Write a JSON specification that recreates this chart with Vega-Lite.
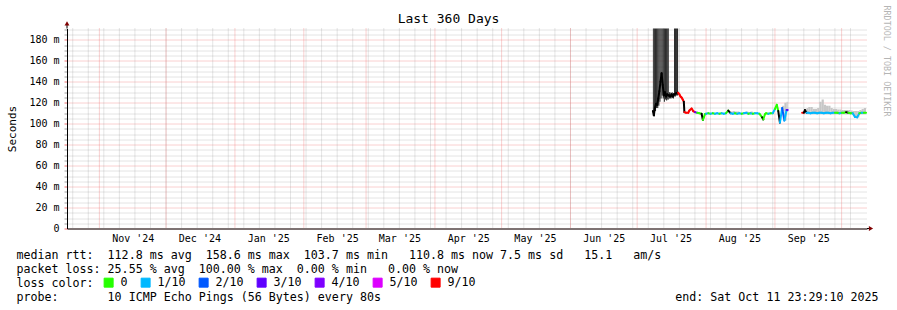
{
  "$schema": "https://vega.github.io/schema/vega-lite/v6.json",
  "width": 800,
  "height": 200,
  "autosize": {"type": "none"},
  "padding": {"left": 67, "top": 28.5, "right": 30, "bottom": 81.5},
  "background": "#ffffff",
  "config": {"view": {"stroke": null}, "font": "DejaVu Sans Mono"},
  "title": {"text": "Last 360 Days", "font": "DejaVu Sans Mono", "fontSize": 13, "fontWeight": "normal", "color": "#000000", "anchor": "middle", "dx": -18.5, "dy": 35.5, "offset": 4.5, "baseline": "alphabetic"},
  "datasets": {
    "grid": [
      {"t": "2024-10-20", "k": "w"}, {"t": "2024-10-27", "k": "w"}, {"t": "2024-11-03", "k": "w"}, {"t": "2024-11-10", "k": "w"}, {"t": "2024-11-17", "k": "w"}, {"t": "2024-11-24", "k": "w"}, {"t": "2024-12-01", "k": "w"}, {"t": "2024-12-08", "k": "w"}, {"t": "2024-12-15", "k": "w"}, {"t": "2024-12-22", "k": "w"}, {"t": "2024-12-29", "k": "w"},
      {"t": "2025-01-05", "k": "w"}, {"t": "2025-01-12", "k": "w"}, {"t": "2025-01-19", "k": "w"}, {"t": "2025-01-26", "k": "w"}, {"t": "2025-02-02", "k": "w"}, {"t": "2025-02-09", "k": "w"}, {"t": "2025-02-16", "k": "w"}, {"t": "2025-02-23", "k": "w"}, {"t": "2025-03-02", "k": "w"}, {"t": "2025-03-09", "k": "w"}, {"t": "2025-03-16", "k": "w"}, {"t": "2025-03-23", "k": "w"}, {"t": "2025-03-30", "k": "w"},
      {"t": "2025-04-06", "k": "w"}, {"t": "2025-04-13", "k": "w"}, {"t": "2025-04-20", "k": "w"}, {"t": "2025-04-27", "k": "w"}, {"t": "2025-05-04", "k": "w"}, {"t": "2025-05-11", "k": "w"}, {"t": "2025-05-18", "k": "w"}, {"t": "2025-05-25", "k": "w"}, {"t": "2025-06-01", "k": "w"}, {"t": "2025-06-08", "k": "w"}, {"t": "2025-06-15", "k": "w"}, {"t": "2025-06-22", "k": "w"}, {"t": "2025-06-29", "k": "w"},
      {"t": "2025-07-06", "k": "w"}, {"t": "2025-07-13", "k": "w"}, {"t": "2025-07-20", "k": "w"}, {"t": "2025-07-27", "k": "w"}, {"t": "2025-08-03", "k": "w"}, {"t": "2025-08-10", "k": "w"}, {"t": "2025-08-17", "k": "w"}, {"t": "2025-08-24", "k": "w"}, {"t": "2025-08-31", "k": "w"}, {"t": "2025-09-07", "k": "w"}, {"t": "2025-09-14", "k": "w"}, {"t": "2025-09-21", "k": "w"}, {"t": "2025-09-28", "k": "w"}, {"t": "2025-10-05", "k": "w"},
      {"t": "2024-11-01", "k": "m"}, {"t": "2024-12-01", "k": "m"}, {"t": "2025-01-01", "k": "m"}, {"t": "2025-02-01", "k": "m"}, {"t": "2025-03-01", "k": "m"}, {"t": "2025-04-01", "k": "m"}, {"t": "2025-05-01", "k": "m"}, {"t": "2025-06-01", "k": "m"}, {"t": "2025-07-01", "k": "m"}, {"t": "2025-08-01", "k": "m"}, {"t": "2025-09-01", "k": "m"}, {"t": "2025-10-01", "k": "m"}
    ],
    "pts": [
      {"t": "2025-07-08T02:00Z", "med": 112, "loss": "x", "seg": 1, "s": "d", "lo": 110, "hi": 195},
      {"t": "2025-07-08T12:00Z", "med": 108, "loss": "x", "seg": 1, "s": "d", "lo": 107, "hi": 195},
      {"t": "2025-07-09T00:00Z", "med": 115, "loss": "x", "seg": 1, "s": "d", "lo": 112, "hi": 195},
      {"t": "2025-07-09T12:00Z", "med": 119, "loss": "x", "seg": 1, "s": "d", "lo": 115, "hi": 195},
      {"t": "2025-07-10T00:00Z", "med": 118, "loss": "x", "seg": 1, "s": "d", "lo": 115, "hi": 195},
      {"t": "2025-07-10T12:00Z", "med": 124, "loss": "x", "seg": 1, "s": "d", "lo": 117, "hi": 195},
      {"t": "2025-07-11T00:00Z", "med": 131, "loss": "x", "seg": 1, "s": "d", "lo": 121, "hi": 195},
      {"t": "2025-07-11T12:00Z", "med": 140, "loss": "x", "seg": 1, "s": "d", "lo": 124, "hi": 195},
      {"t": "2025-07-12T00:00Z", "med": 148, "loss": "x", "seg": 1, "s": "d", "lo": 127, "hi": 195},
      {"t": "2025-07-12T12:00Z", "med": 137, "loss": "x", "seg": 1, "s": "d", "lo": 124, "hi": 195},
      {"t": "2025-07-13T00:00Z", "med": 127, "loss": "x", "seg": 1, "s": "d", "lo": 121, "hi": 195},
      {"t": "2025-07-13T12:00Z", "med": 130, "loss": "x", "seg": 1, "s": "d", "lo": 123, "hi": 195},
      {"t": "2025-07-14T00:00Z", "med": 126, "loss": "x", "seg": 1, "s": "d", "lo": 122, "hi": 195},
      {"t": "2025-07-14T12:00Z", "med": 128, "loss": "x", "seg": 1, "s": "d", "lo": 123, "hi": 195},
      {"t": "2025-07-15T00:00Z", "med": 127, "loss": "x", "seg": 1, "s": "d", "lo": 123, "hi": 195},
      {"t": "2025-07-15T08:00Z", "med": 127, "loss": "x", "seg": 1, "s": "d", "lo": 124, "hi": 130},
      {"t": "2025-07-16T00:00Z", "med": 126, "loss": "x", "seg": 1, "s": "d", "lo": 124, "hi": 129},
      {"t": "2025-07-16T12:00Z", "med": 128, "loss": "x", "seg": 1, "s": "d", "lo": 125, "hi": 130},
      {"t": "2025-07-17T00:00Z", "med": 126, "loss": "x", "seg": 1, "s": "d", "lo": 124, "hi": 129},
      {"t": "2025-07-17T14:00Z", "med": 128, "loss": "x", "seg": 1, "s": "d", "lo": 126, "hi": 195},
      {"t": "2025-07-18T12:00Z", "med": 129, "loss": "x", "seg": 1, "s": "d", "lo": 127, "hi": 195},
      {"t": "2025-07-19T10:00Z", "med": 129.5, "loss": "9/10", "seg": 1},
      {"t": "2025-07-20T00:00Z", "med": 128, "loss": "9/10", "seg": 1},
      {"t": "2025-07-20T12:00Z", "med": 126, "loss": "9/10", "seg": 1},
      {"t": "2025-07-21T00:00Z", "med": 125, "loss": "9/10", "seg": 1},
      {"t": "2025-07-21T12:00Z", "med": 123, "loss": "9/10", "seg": 1},
      {"t": "2025-07-22T00:00Z", "med": 121, "loss": "x", "seg": 1},
      {"t": "2025-07-22T06:00Z", "med": 111, "loss": "9/10", "seg": 1},
      {"t": "2025-07-23T00:00Z", "med": 110.5, "loss": "9/10", "seg": 1},
      {"t": "2025-07-24T00:00Z", "med": 110.5, "loss": "9/10", "seg": 1},
      {"t": "2025-07-24T12:00Z", "med": 112.5, "loss": "9/10", "seg": 1},
      {"t": "2025-07-25T12:00Z", "med": 114.5, "loss": "9/10", "seg": 1},
      {"t": "2025-07-26T06:00Z", "med": 112, "loss": "9/10", "seg": 1},
      {"t": "2025-07-27T00:00Z", "med": 111, "loss": "3/10", "seg": 1},
      {"t": "2025-07-28T00:00Z", "med": 110.5, "loss": "0", "seg": 1},
      {"t": "2025-07-29T00:00Z", "med": 110, "loss": "0", "seg": 1},
      {"t": "2025-07-30T00:00Z", "med": 109.5, "loss": "x", "seg": 1},
      {"t": "2025-07-30T14:00Z", "med": 103.5, "loss": "0", "seg": 1},
      {"t": "2025-07-31T00:00Z", "med": 106, "loss": "0", "seg": 1},
      {"t": "2025-07-31T12:00Z", "med": 109, "loss": "0", "seg": 1},
      {"t": "2025-08-01T00:00Z", "med": 109.5, "loss": "1/10", "seg": 1},
      {"t": "2025-08-02T00:00Z", "med": 110, "loss": "0", "seg": 1},
      {"t": "2025-08-03T00:00Z", "med": 109.5, "loss": "1/10", "seg": 1},
      {"t": "2025-08-04T00:00Z", "med": 110, "loss": "0", "seg": 1},
      {"t": "2025-08-05T00:00Z", "med": 109.5, "loss": "1/10", "seg": 1},
      {"t": "2025-08-06T00:00Z", "med": 110, "loss": "1/10", "seg": 1},
      {"t": "2025-08-07T00:00Z", "med": 109.5, "loss": "0", "seg": 1},
      {"t": "2025-08-08T00:00Z", "med": 110, "loss": "1/10", "seg": 1},
      {"t": "2025-08-09T00:00Z", "med": 109.5, "loss": "1/10", "seg": 1},
      {"t": "2025-08-10T00:00Z", "med": 110, "loss": "0", "seg": 1},
      {"t": "2025-08-11T00:00Z", "med": 112.5, "loss": "x", "seg": 1},
      {"t": "2025-08-12T00:00Z", "med": 110, "loss": "1/10", "seg": 1, "s": "l", "lo": 109, "hi": 111.5},
      {"t": "2025-08-13T00:00Z", "med": 109.5, "loss": "1/10", "seg": 1, "s": "l", "lo": 109, "hi": 112},
      {"t": "2025-08-14T00:00Z", "med": 110, "loss": "0", "seg": 1, "s": "l", "lo": 109, "hi": 111.5},
      {"t": "2025-08-15T00:00Z", "med": 109.5, "loss": "1/10", "seg": 1, "s": "l", "lo": 109, "hi": 111.5},
      {"t": "2025-08-16T00:00Z", "med": 110, "loss": "1/10", "seg": 1},
      {"t": "2025-08-17T00:00Z", "med": 109.5, "loss": "0", "seg": 1},
      {"t": "2025-08-18T00:00Z", "med": 110, "loss": "1/10", "seg": 1, "s": "l", "lo": 109, "hi": 111},
      {"t": "2025-08-19T00:00Z", "med": 110.5, "loss": "1/10", "seg": 1, "s": "l", "lo": 109, "hi": 111.5},
      {"t": "2025-08-20T00:00Z", "med": 109.5, "loss": "0", "seg": 1, "s": "l", "lo": 109, "hi": 111},
      {"t": "2025-08-21T00:00Z", "med": 110, "loss": "1/10", "seg": 1, "s": "l", "lo": 109, "hi": 111.5},
      {"t": "2025-08-22T00:00Z", "med": 109.5, "loss": "0", "seg": 1},
      {"t": "2025-08-23T00:00Z", "med": 110, "loss": "1/10", "seg": 1},
      {"t": "2025-08-24T00:00Z", "med": 110, "loss": "1/10", "seg": 1},
      {"t": "2025-08-25T00:00Z", "med": 109.5, "loss": "0", "seg": 1},
      {"t": "2025-08-26T06:00Z", "med": 106, "loss": "x", "seg": 1},
      {"t": "2025-08-26T18:00Z", "med": 104, "loss": "0", "seg": 1},
      {"t": "2025-08-27T12:00Z", "med": 109, "loss": "0", "seg": 1},
      {"t": "2025-08-28T00:00Z", "med": 110, "loss": "0", "seg": 1},
      {"t": "2025-08-29T00:00Z", "med": 109.5, "loss": "1/10", "seg": 1},
      {"t": "2025-08-30T00:00Z", "med": 110, "loss": "0", "seg": 1},
      {"t": "2025-08-31T00:00Z", "med": 110, "loss": "1/10", "seg": 1},
      {"t": "2025-09-01T00:00Z", "med": 114, "loss": "0", "seg": 1},
      {"t": "2025-09-01T20:00Z", "med": 118, "loss": "0", "seg": 1},
      {"t": "2025-09-02T12:00Z", "med": 112, "loss": "x", "seg": 1},
      {"t": "2025-09-03T06:00Z", "med": 101, "loss": "1/10", "seg": 1},
      {"t": "2025-09-04T06:00Z", "med": 115, "loss": "2/10", "seg": 1, "s": "l", "lo": 112, "hi": 117},
      {"t": "2025-09-05T06:00Z", "med": 103, "loss": "1/10", "seg": 1, "s": "l", "lo": 103, "hi": 120},
      {"t": "2025-09-06T06:00Z", "med": 113, "loss": "3/10", "seg": 1, "s": "l", "lo": 111, "hi": 121},
      {"t": "2025-09-06T18:00Z", "med": 113, "loss": "3/10", "seg": 1},
      {"t": "2025-09-13T06:00Z", "med": 110.5, "loss": "9/10", "seg": 2},
      {"t": "2025-09-14T00:00Z", "med": 110.5, "loss": "x", "seg": 2, "s": "l", "lo": 109, "hi": 112},
      {"t": "2025-09-14T12:00Z", "med": 113, "loss": "x", "seg": 2, "s": "l", "lo": 110, "hi": 114},
      {"t": "2025-09-15T06:00Z", "med": 110.5, "loss": "1/10", "seg": 2, "s": "l", "lo": 109, "hi": 115},
      {"t": "2025-09-16T00:00Z", "med": 110.5, "loss": "1/10", "seg": 2, "s": "l", "lo": 109, "hi": 116},
      {"t": "2025-09-17T00:00Z", "med": 110, "loss": "1/10", "seg": 2, "s": "l", "lo": 109, "hi": 116},
      {"t": "2025-09-18T00:00Z", "med": 110.5, "loss": "1/10", "seg": 2, "s": "l", "lo": 109, "hi": 114},
      {"t": "2025-09-19T00:00Z", "med": 110.5, "loss": "1/10", "seg": 2, "s": "l", "lo": 109, "hi": 114},
      {"t": "2025-09-20T00:00Z", "med": 110, "loss": "1/10", "seg": 2, "s": "l", "lo": 109, "hi": 115},
      {"t": "2025-09-21T00:00Z", "med": 110.5, "loss": "1/10", "seg": 2, "s": "l", "lo": 109, "hi": 121},
      {"t": "2025-09-22T00:00Z", "med": 110.5, "loss": "1/10", "seg": 2, "s": "l", "lo": 109, "hi": 123},
      {"t": "2025-09-23T00:00Z", "med": 110, "loss": "1/10", "seg": 2, "s": "l", "lo": 109, "hi": 118},
      {"t": "2025-09-24T00:00Z", "med": 110.5, "loss": "1/10", "seg": 2, "s": "l", "lo": 109, "hi": 117},
      {"t": "2025-09-25T00:00Z", "med": 110.5, "loss": "1/10", "seg": 2, "s": "l", "lo": 109, "hi": 117},
      {"t": "2025-09-26T00:00Z", "med": 110, "loss": "1/10", "seg": 2, "s": "l", "lo": 109, "hi": 115},
      {"t": "2025-09-27T00:00Z", "med": 110.5, "loss": "1/10", "seg": 2, "s": "l", "lo": 109, "hi": 114},
      {"t": "2025-09-28T00:00Z", "med": 110.5, "loss": "0", "seg": 2, "s": "l", "lo": 109, "hi": 114},
      {"t": "2025-09-29T00:00Z", "med": 110.5, "loss": "0", "seg": 2, "s": "l", "lo": 109, "hi": 113.5},
      {"t": "2025-09-30T00:00Z", "med": 110, "loss": "1/10", "seg": 2, "s": "l", "lo": 109, "hi": 113.5},
      {"t": "2025-10-01T00:00Z", "med": 110.5, "loss": "0", "seg": 2, "s": "l", "lo": 109, "hi": 113},
      {"t": "2025-10-02T00:00Z", "med": 110.5, "loss": "0", "seg": 2, "s": "l", "lo": 109, "hi": 113},
      {"t": "2025-10-03T00:00Z", "med": 111, "loss": "x", "seg": 2, "s": "l", "lo": 109, "hi": 113},
      {"t": "2025-10-04T00:00Z", "med": 110.5, "loss": "0", "seg": 2, "s": "l", "lo": 109, "hi": 113},
      {"t": "2025-10-05T00:00Z", "med": 110, "loss": "0", "seg": 2, "s": "l", "lo": 109, "hi": 112.5},
      {"t": "2025-10-06T00:00Z", "med": 110, "loss": "1/10", "seg": 2, "s": "l", "lo": 108, "hi": 112},
      {"t": "2025-10-07T00:00Z", "med": 106.5, "loss": "1/10", "seg": 2, "s": "l", "lo": 106, "hi": 112},
      {"t": "2025-10-08T00:00Z", "med": 106, "loss": "1/10", "seg": 2, "s": "l", "lo": 106, "hi": 112},
      {"t": "2025-10-09T00:00Z", "med": 110, "loss": "0", "seg": 2, "s": "l", "lo": 109, "hi": 113},
      {"t": "2025-10-10T00:00Z", "med": 110.5, "loss": "1/10", "seg": 2, "s": "l", "lo": 109, "hi": 114},
      {"t": "2025-10-11T00:00Z", "med": 110.5, "loss": "0", "seg": 2, "s": "l", "lo": 109, "hi": 115},
      {"t": "2025-10-12T00:00Z", "med": 110.5, "loss": "1/10", "seg": 2, "s": "l", "lo": 109, "hi": 113}
    ],
    "arw": [
      {"t": "2024-10-17T10:17:10Z", "v": 195.6, "sh": "triangle-up"},
      {"t": "2025-10-14T05:30:00Z", "v": 0, "sh": "triangle-right"}
    ],
    "ext": [
      {"t": "2024-10-17T10:17:10Z", "t2": "2024-10-17T10:17:10Z", "v": 190.8, "v2": 194.5},
      {"t": "2025-10-12T10:17:10Z", "t2": "2025-10-14T00:00:00Z", "v": 0, "v2": 0}
    ]
  },
  "layer": [
    {
      "data": {"name": "grid"},
      "mark": {"type": "rule", "strokeDash": [1, 1], "strokeWidth": 1},
      "encoding": {
        "x": {
          "field": "t", "type": "temporal",
          "scale": {"type": "utc", "domain": [{"year": 2024, "month": 10, "date": 17, "hours": 10, "minutes": 17, "seconds": 10, "utc": true}, {"year": 2025, "month": 10, "date": 12, "hours": 10, "minutes": 17, "seconds": 10, "utc": true}]},
          "axis": {
            "values": [
              {"year": 2024, "month": 11, "date": 16, "utc": true}, {"year": 2024, "month": 12, "date": 16, "utc": true},
              {"year": 2025, "month": 1, "date": 16, "utc": true}, {"year": 2025, "month": 2, "date": 16, "utc": true},
              {"year": 2025, "month": 3, "date": 16, "utc": true}, {"year": 2025, "month": 4, "date": 16, "utc": true},
              {"year": 2025, "month": 5, "date": 16, "utc": true}, {"year": 2025, "month": 6, "date": 16, "utc": true},
              {"year": 2025, "month": 7, "date": 16, "utc": true}, {"year": 2025, "month": 8, "date": 16, "utc": true},
              {"year": 2025, "month": 9, "date": 16, "utc": true}
            ],
            "format": "%b '%y",
            "labelFont": "DejaVu Sans Mono", "labelFontSize": 10, "labelColor": "#000000",
            "labelBaseline": "alphabetic", "labelPadding": 13, "labelOverlap": false, "labelFlush": false,
            "ticks": false, "tickSize": 0, "grid": false, "domain": true, "domainColor": "#000000",
            "title": [
              "median rtt:\u00a0\u00a0112.8 ms avg\u00a0\u00a0158.6 ms max\u00a0\u00a0103.7 ms min\u00a0\u00a0\u00a0110.8 ms now 7.5 ms sd\u00a0\u00a0\u00a015.1\u00a0\u00a0\u00a0am/s",
              "packet loss: 25.55 % avg\u00a0\u00a0100.00 % max\u00a0\u00a00.00 % min\u00a0\u00a0\u00a00.00 % now",
              "loss color:",
              "probe:\u00a0\u00a0\u00a0\u00a0\u00a0\u00a0\u00a010 ICMP Echo Pings (56 Bytes) every 80s\u00a0\u00a0\u00a0\u00a0\u00a0\u00a0\u00a0\u00a0\u00a0\u00a0\u00a0\u00a0\u00a0\u00a0\u00a0\u00a0\u00a0\u00a0\u00a0\u00a0\u00a0\u00a0\u00a0\u00a0\u00a0\u00a0\u00a0\u00a0\u00a0\u00a0\u00a0\u00a0\u00a0\u00a0\u00a0\u00a0\u00a0\u00a0\u00a0\u00a0\u00a0\u00a0end: Sat Oct 11 23:29:10 2025"
            ],
            "titleX": -51, "titleY": 29.5, "titleAlign": "left", "titleAnchor": "start", "titleBaseline": "alphabetic",
            "titleFont": "DejaVu Sans Mono", "titleFontSize": 11.65, "titleFontWeight": "normal", "titleColor": "#000000",
            "titleLineHeight": 14.1, "titleLimit": 2000
          }
        },
        "stroke": {"condition": {"test": "datum.k === 'm'", "value": "#f07070"}, "value": "#8c8c8c"},
        "opacity": {"condition": {"test": "datum.k === 'm'", "value": 0.65}, "value": 0.45}
      }
    },
    {
      "data": {"name": "pts"},
      "transform": [
        {"window": [{"op": "lead", "field": "t", "as": "tn"}], "groupby": ["seg"], "sort": [{"field": "t", "order": "ascending"}]},
        {"filter": "isValid(datum.lo) && datum.tn != null"}
      ],
      "mark": {"type": "rect", "clip": true},
      "encoding": {
        "x": {"field": "t", "type": "temporal", "scale": {"type": "utc", "domain": [{"year": 2024, "month": 10, "date": 17, "hours": 10, "minutes": 17, "seconds": 10, "utc": true}, {"year": 2025, "month": 10, "date": 12, "hours": 10, "minutes": 17, "seconds": 10, "utc": true}]}},
        "x2": {"field": "tn"},
        "y": {
          "field": "lo", "type": "quantitative",
          "scale": {"domain": [0, 190.8], "nice": false, "zero": false},
          "axis": {
            "orient": "left",
            "values": [0, 5, 10, 15, 20, 25, 30, 35, 40, 45, 50, 55, 60, 65, 70, 75, 80, 85, 90, 95, 100, 105, 110, 115, 120, 125, 130, 135, 140, 145, 150, 155, 160, 165, 170, 175, 180, 185, 190],
            "labelExpr": "datum.value % 20 === 0 ? (datum.value === 0 ? '0\u00a0\u00a0' : datum.value + '\u00a0m') : ''",
            "labelFont": "DejaVu Sans Mono", "labelFontSize": 10, "labelColor": "#000000", "labelPadding": 5, "labelOverlap": false,
            "tickSize": 3,
            "tickColor": {"condition": {"test": "datum.value % 20 === 0", "value": "#f07070"}, "value": "#a0a0a0"},
            "grid": true,
            "gridColor": {"condition": {"test": "datum.value % 20 === 0", "value": "#f07070"}, "value": "#8c8c8c"},
            "gridOpacity": {"condition": {"test": "datum.value % 20 === 0", "value": 0.65}, "value": 0.45},
            "gridDash": [1, 1],
            "domainColor": "#000000",
            "title": "Seconds", "titleFont": "DejaVu Sans Mono", "titleFontSize": 11, "titleFontWeight": "normal", "titleColor": "#000000", "titlePadding": 11
          }
        },
        "y2": {"field": "hi"},
        "color": {"condition": {"test": "datum.s === 'd'", "value": "#2e2e2e"}, "value": "#c6c6c6"}
      }
    },
    {
      "data": {"name": "pts"},
      "transform": [
        {"window": [{"op": "lead", "field": "t", "as": "tn"}, {"op": "lead", "field": "med", "as": "mn"}], "groupby": ["seg"], "sort": [{"field": "t", "order": "ascending"}]},
        {"filter": "datum.tn != null"}
      ],
      "mark": {"type": "rule", "strokeWidth": 2, "strokeCap": "round"},
      "encoding": {
        "x": {"field": "t", "type": "temporal", "scale": {"type": "utc", "domain": [{"year": 2024, "month": 10, "date": 17, "hours": 10, "minutes": 17, "seconds": 10, "utc": true}, {"year": 2025, "month": 10, "date": 12, "hours": 10, "minutes": 17, "seconds": 10, "utc": true}]}},
        "x2": {"field": "tn"},
        "y": {"field": "med", "type": "quantitative", "scale": {"domain": [0, 190.8], "nice": false, "zero": false}, "axis": null},
        "y2": {"field": "mn"},
        "color": {
          "field": "loss", "type": "nominal",
          "scale": {"domain": ["0", "1/10", "2/10", "3/10", "4/10", "5/10", "9/10", "x"], "range": ["#26ff00", "#00b8ff", "#0059ff", "#5e00ff", "#7e00ff", "#dd00ff", "#ff0000", "#000000"]},
          "legend": {
            "title": null, "orient": "none", "legendX": 35.8, "legendY": 248, "direction": "horizontal",
            "values": ["0", "1/10", "2/10", "3/10", "4/10", "5/10", "9/10"],
            "symbolType": "square", "symbolSize": 81, "symbolStrokeWidth": 1,
            "labelFont": "DejaVu Sans Mono", "labelFontSize": 11.65, "labelColor": "#000000", "labelOffset": 6, "labelLimit": 200,
            "columnPadding": 11,
            "encode": {"symbols": {"update": {"fill": {"scale": "color", "field": "value"}, "stroke": {"value": "#000000"}, "strokeWidth": {"value": 1}, "opacity": {"value": 1}}}}
          }
        }
      }
    },
    {
      "data": {"name": "ext"},
      "mark": {"type": "rule", "color": "#000000", "strokeWidth": 1, "clip": false},
      "encoding": {
        "x": {"field": "t", "type": "temporal", "scale": {"type": "utc", "domain": [{"year": 2024, "month": 10, "date": 17, "hours": 10, "minutes": 17, "seconds": 10, "utc": true}, {"year": 2025, "month": 10, "date": 12, "hours": 10, "minutes": 17, "seconds": 10, "utc": true}]}},
        "x2": {"field": "t2"},
        "y": {"field": "v", "type": "quantitative", "scale": {"domain": [0, 190.8], "nice": false, "zero": false}, "axis": null},
        "y2": {"field": "v2"}
      }
    },
    {
      "data": {"name": "arw"},
      "mark": {"type": "point", "filled": true, "color": "#800000", "size": 24, "opacity": 1, "clip": false},
      "encoding": {
        "x": {"field": "t", "type": "temporal", "scale": {"type": "utc", "domain": [{"year": 2024, "month": 10, "date": 17, "hours": 10, "minutes": 17, "seconds": 10, "utc": true}, {"year": 2025, "month": 10, "date": 12, "hours": 10, "minutes": 17, "seconds": 10, "utc": true}]}},
        "y": {
          "field": "v", "type": "quantitative", "scale": {"domain": [0, 190.8], "nice": false, "zero": false},
          "axis": {
            "orient": "right", "title": "RRDTOOL / TOBI OETIKER", "labels": false, "ticks": false, "domain": false, "grid": false,
            "titleAngle": 90, "titleX": 19, "titleY": -23.5, "titleAlign": "left", "titleBaseline": "middle",
            "titleColor": "#b5b5b5", "titleFont": "DejaVu Sans Mono", "titleFontSize": 8.4, "titleFontWeight": "normal", "titleLimit": 400
          }
        },
        "shape": {"field": "sh", "type": "nominal", "scale": null}
      }
    }
  ],
  "resolve": {"axis": {"y": "independent"}}
}
